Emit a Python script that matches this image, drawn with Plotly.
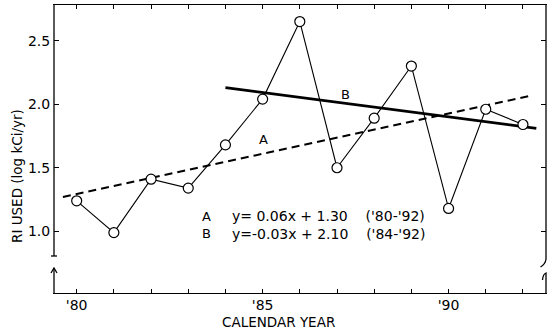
import plotly.graph_objects as go

# ---- data ----
years = [1980, 1981, 1982, 1983, 1984, 1985, 1986, 1987, 1988, 1989, 1990, 1991, 1992]
ri_used = [1.24, 0.99, 1.41, 1.34, 1.68, 2.04, 2.65, 1.50, 1.89, 2.30, 1.18, 1.96, 1.84]

# regression lines (endpoints as drawn)
line_a_x = [1979.63, 1992.27]
line_a_y = [1.27, 2.07]
line_b_x = [1984.0, 1992.36]
line_b_y = [2.13, 1.81]

x_tick_vals = years
x_tick_text = ["'80", "", "", "", "", "'85", "", "", "", "", "'90", "", ""]
y_tick_vals = [1.0, 1.5, 2.0, 2.5]
y_tick_text = ["1.0", "1.5", "2.0", "2.5"]

eq_a = "y= 0.06x + 1.30    ('80-'92)"
eq_b = "y=-0.03x + 2.10    ('84-'92)"

# ---- layout geometry (pixels) ----
W, H = 554, 329
L, R, T, B = 54, 8, 5, 36
PW, PH = W - L - R, H - T - B
X_RANGE = [1979.39, 1992.62]
Y_RANGE = [0.515, 2.78]


def px(x):
    return (x - L) / PW


def py(y):
    return (H - B - y) / PH


FONT = "DejaVu Sans"

fig = go.Figure()

fig.add_trace(go.Scatter(
    x=line_a_x, y=line_a_y, mode="lines",
    line=dict(color="black", width=2, dash="8px,5px"), hoverinfo="skip"))
fig.add_trace(go.Scatter(
    x=line_b_x, y=line_b_y, mode="lines",
    line=dict(color="black", width=2.6), hoverinfo="skip"))
fig.add_trace(go.Scatter(
    x=years, y=ri_used, mode="lines+markers",
    line=dict(color="black", width=1.1),
    marker=dict(symbol="circle", size=10, color="white",
                line=dict(color="black", width=1.2))))

shapes = []
lw = 1.3
# left broken axis
shapes.append(dict(type="line", xref="paper", yref="paper",
                   x0=px(54), y0=py(5), x1=px(54), y1=py(256),
                   line=dict(color="black", width=lw)))
shapes.append(dict(type="line", xref="paper", yref="paper",
                   x0=px(51), y0=py(256), x1=px(57), y1=py(256),
                   line=dict(color="black", width=lw)))
shapes.append(dict(type="line", xref="paper", yref="paper",
                   x0=px(54), y0=py(268), x1=px(54), y1=py(293),
                   line=dict(color="black", width=lw)))
shapes.append(dict(type="path", xref="paper", yref="paper",
                   path=f"M {px(51)} {py(273)} L {px(54)} {py(268)} L {px(57)} {py(273)}",
                   line=dict(color="black", width=lw)))
# right broken axis
shapes.append(dict(type="line", xref="paper", yref="paper",
                   x0=px(546), y0=py(5), x1=px(546), y1=py(259),
                   line=dict(color="black", width=lw)))
shapes.append(dict(type="path", xref="paper", yref="paper",
                   path=f"M {px(546)} {py(259)} Q {px(545.5)} {py(264)} {px(540.5)} {py(267)}",
                   line=dict(color="black", width=lw)))
shapes.append(dict(type="path", xref="paper", yref="paper",
                   path=f"M {px(542.5)} {py(280)} Q {px(543)} {py(274)} {px(546)} {py(273)} L {px(546)} {py(293)}",
                   line=dict(color="black", width=lw)))


def ann(x, y, text, size, anchor="center", angle=0):
    return dict(x=x, y=y, xref="paper", yref="paper",
                text=text, showarrow=False, xanchor=anchor, yanchor="middle",
                textangle=angle, font=dict(family=FONT, size=size, color="black"))


annotations = [
    dict(x=1985.03, y=1.72, xref="x", yref="y", text="A", showarrow=False,
         xanchor="center", yanchor="middle",
         font=dict(family=FONT, size=13, color="black")),
    dict(x=1987.24, y=2.08, xref="x", yref="y", text="B", showarrow=False,
         xanchor="center", yanchor="middle",
         font=dict(family=FONT, size=13, color="black")),
    ann(px(206), py(216), "A", 13),
    ann(px(206), py(233.5), "B", 13),
    ann(px(230), py(216), eq_a, 14, anchor="left"),
    ann(px(230), py(233.5), eq_b, 14, anchor="left"),
    ann(px(278), py(321.5), "CALENDAR YEAR", 13.5),
    ann(px(17), py(176), "RI USED (log kCi/yr)", 13.5, angle=-90),
]

fig.update_layout(
    width=W, height=H,
    margin=dict(l=L, r=R, t=T, b=B, pad=0),
    paper_bgcolor="white", plot_bgcolor="white",
    showlegend=False,
    shapes=shapes,
    annotations=annotations,
    xaxis=dict(range=X_RANGE, tickvals=x_tick_vals, ticktext=x_tick_text,
               ticks="inside", ticklen=4, tickwidth=1, tickcolor="black",
               showline=True, linecolor="black", linewidth=lw, mirror="ticks",
               showgrid=False, zeroline=False, ticklabelstandoff=-1,
               tickfont=dict(family=FONT, size=14, color="black")),
    yaxis=dict(range=Y_RANGE, tickvals=y_tick_vals, ticktext=y_tick_text,
               ticks="inside", ticklen=5, tickwidth=1, tickcolor="black",
               showline=True, linecolor="rgba(0,0,0,0)", mirror="ticks",
               showgrid=False, zeroline=False,
               tickfont=dict(family=FONT, size=14, color="black")),
)

fig.write_html("out.html", config={"displayModeBar": False},
               post_script="document.body.style.margin='0';")
